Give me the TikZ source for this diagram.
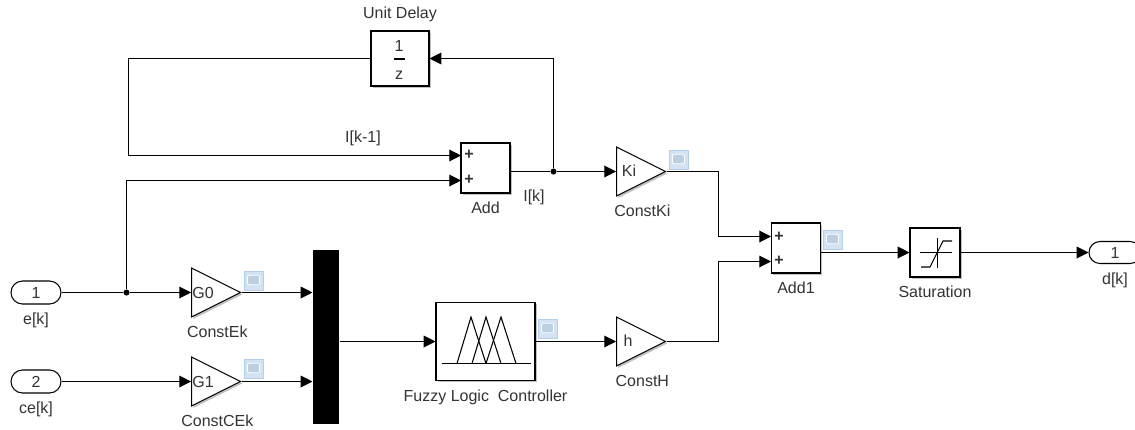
\documentclass[tikz,border=0pt]{standalone}
\usepackage{fontspec}
\setmainfont{Liberation Sans}
\usetikzlibrary{arrows.meta, shapes.geometric, shapes.misc, shadows}
\definecolor{labelgray}{HTML}{333333}
\definecolor{scopeblue}{HTML}{D3E3F4}
\definecolor{scopeedge}{HTML}{B4CFEA}
\definecolor{scopescreen}{HTML}{BCCFE0}

\begin{document}
\begin{tikzpicture}
        [x=0.75pt,y=-0.75pt,every node/.style={inner sep=0,text=labelgray,font=\fontsize{12}{14}\selectfont},
        every label/.style={inner sep=0,text=labelgray,font=\fontsize{12}{14}\selectfont},
        label distance=6pt,
        every path/.style={line width=0.8pt},
        softshadow/.style={drop shadow={shadow xshift=1.4pt,shadow yshift=-1.4pt,fill=black!45,opacity=0.55}},
        block/.style={draw,fill=white,softshadow,shape=rectangle},
        gain/.style={draw,fill=white,softshadow,shape=isosceles triangle,isosceles triangle stretches,minimum width=36.75pt,minimum height=36.75pt,anchor=lower side},
        gainlabel/.style={label distance=11.5pt,xshift=8pt},
        port/.style={draw,fill=white,shape=rounded rectangle,minimum width=37.5pt,minimum height=17.25pt},
        scopeicon/.style={draw=scopeedge,fill=scopeblue,shape=rectangle,minimum size=14.25pt,line width=0.6pt,
          path picture={\draw[draw=white,fill=scopescreen,rounded corners=1pt,line width=0.6pt] ([shift={(2.6pt,4pt)}]path picture bounding box.south west) rectangle ([shift={(-2.6pt,-3.2pt)}]path picture bounding box.north east);}},
        signal/.style={-{Triangle[length=8.8pt,width=8.8pt]}},
        dot/.style={shape=circle,fill=black,draw=none,minimum size=4.6pt}]

        \useasboundingbox (0,0) rectangle (1135,429);

        \node[port,label=below:{e[k]}] (ek) at (36,292.5) {1};
        \node[port,label=below:{ce[k]}] (cek) at (36,381.5) {2};

        \node[gain,label={[gainlabel]below:{ConstEk}}] (g0) at (191,292.5) {};
        \node[gain,label={[gainlabel]below:{ConstCEk}}] (g1) at (191,381.5) {};
        \node[gain,label={[gainlabel]below:{ConstKi}}] (ki) at (616,171.5) {};
        \node[gain,label={[gainlabel]below:{ConstH}}] (h) at (616,341.5) {};
        \node (g0text) at (203,292.5) {G0};
        \node (g1text) at (203,381.5) {G1};
        \node (kitext) at (629,171) {Ki};
        \node (htext) at (628,341) {h};

        \node[fill=black,shape=rectangle,minimum width=19.5pt,minimum height=130.5pt] (mux) at (326,337) {};

        \node[block,minimum width=43.5pt,minimum height=41.25pt,label=above:{Unit Delay}] (delay) at (400,58.5) {};
        \node (delaynum) at (399,46) {1};
        \node (delayden) at (399,75) {z};
        \draw (delay.center) ++(-6,0.5) -- ++(11,0);

        \node[block,minimum width=36.75pt,minimum height=37.5pt,label=below:{Add}] (add) at (485.5,168) {};
        \node (addplus1) at (469,155) {\textbf{+}};
        \node (addplus2) at (469,180) {\textbf{+}};

        \node[block,minimum width=74.25pt,minimum height=58.5pt,label=below:{Fuzzy Logic\ \ Controller}] (fuzzy) at (485.5,341.5) {};
        \draw (442,363.5) -- (531,363.5);
        \draw (457,363.5) -- (471,317) -- (486,363.5);
        \draw (472,363.5) -- (486,317) -- (501,363.5);
        \draw (486,363.5) -- (501,317) -- (516,363.5);

        \node[block,minimum width=36.75pt,minimum height=37.5pt,label=below:{Add1}] (addone) at (796,248) {};
        \node (addoneplus1) at (779,237) {\textbf{+}};
        \node (addoneplus2) at (779,261) {\textbf{+}};

        \node[block,minimum width=37.5pt,minimum height=36.75pt,label=below:{Saturation}] (sat) at (935,252.5) {};
        \draw (920,252.5) -- (952,252.5);
        \draw (937.5,238) -- (937.5,268);
        \draw (921,267) -- (930,267) -- (943,241) -- (952,241);

        \node[port,minimum width=39pt,minimum height=16.5pt,label=below:{d[k]}] (dk) at (1115,252.5) {1};

        \node[scopeicon] (scopeg0) at (253.5,280.5) {};
        \node[scopeicon] (scopeg1) at (253.5,368.5) {};
        \node[scopeicon] (scopeki) at (678.5,159.5) {};
        \node[scopeicon] (scopefuzzy) at (547.5,328.5) {};
        \node[scopeicon] (scopeadd) at (832.5,239.5) {};

        \node (lastlabel) at (363,138) {I[k-1]};
        \node (nowlabel) at (534,197) {I[k]};

        \node[dot] (tap) at (126.5,292.5) {};
        \node[dot] (fork) at (553.5,171.5) {};

        \coordinate (addin1) at (461,155.5);
        \coordinate (addin2) at (461,180.5);
        \coordinate (addonein1) at (771,236.5);
        \coordinate (addonein2) at (771,261.5);
        \coordinate (backbend) at (128.5,155.5);
        \coordinate (tapbend) at (126.5,180.5);
        \coordinate (kibend) at (718.5,236.5);
        \coordinate (hbend) at (718.5,261.5);

        \draw (ek.east) -- (tap);
        \draw[signal] (tap) -- (g0.lower side);
        \draw[signal] (cek.east) -- (g1.lower side);
        \draw[signal] (g0.apex) -- (g0.apex -| mux.west);
        \draw[signal] (g1.apex) -- (g1.apex -| mux.west);
        \draw[signal] (fuzzy.west -| mux.east) -- (fuzzy.west);
        \draw[signal] (fuzzy.east) -- (h.lower side);
        \draw[signal] (tap) -- (tapbend) -- (addin2);
        \draw[signal] (delay.west) -| (backbend) -- (addin1);
        \draw (add.east |- fork) -- (fork);
        \draw[signal] (fork) -- (ki.lower side);
        \draw[signal] (fork) |- (delay.east);
        \draw[signal] (ki.apex) -| (kibend) -- (addonein1);
        \draw[signal] (h.apex) -| (hbend) -- (addonein2);
        \draw[signal] (addone.east |- sat.west) -- (sat.west);
        \draw[signal] (sat.east) -- (dk.west);

      \end{tikzpicture}
\end{document}
